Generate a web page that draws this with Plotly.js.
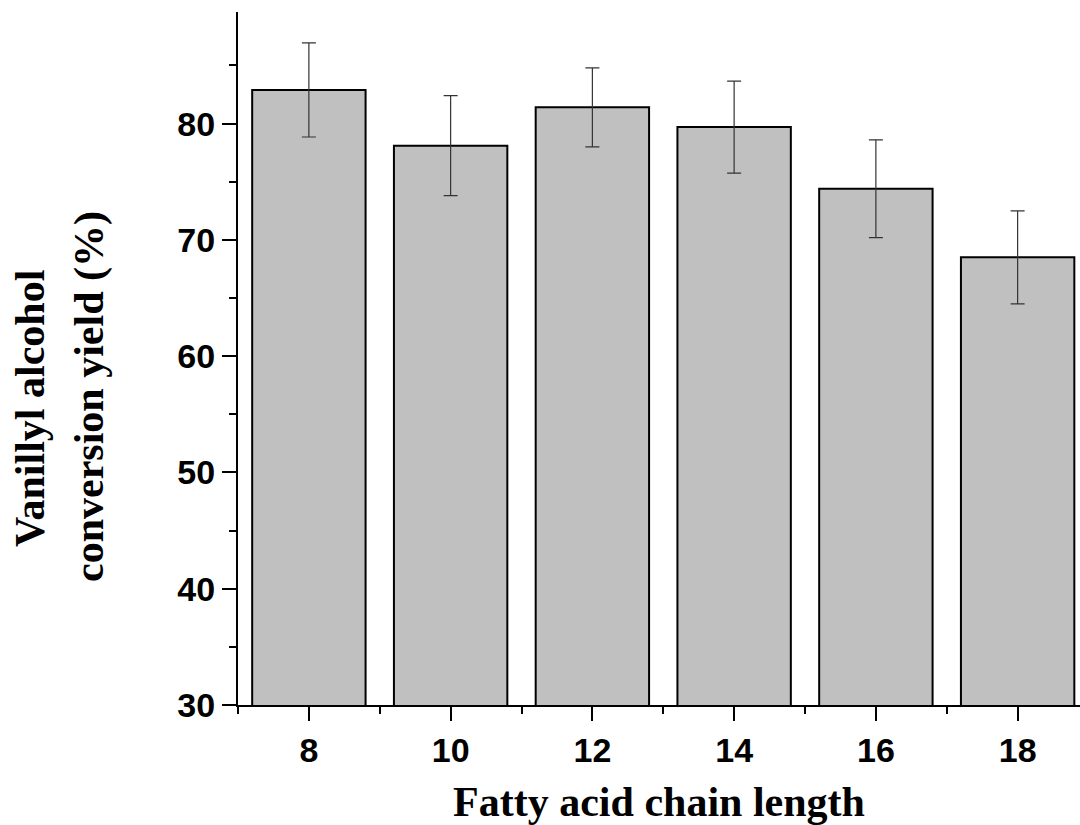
<!DOCTYPE html>
<html>
<head>
<meta charset="utf-8">
<script src="https://cdn.plot.ly/plotly-3.0.1.min.js"></script>
<style>html,body{margin:0;padding:0;background:#fff;}#chart{width:1080px;height:825px;}</style>
</head>
<body>
<div id="chart"></div>
<script>
const chainLengths = [8, 10, 12, 14, 16, 18];
const yieldValues = [82.9, 78.1, 81.4, 79.7, 74.4, 68.5];
const yieldErrors = [4.05, 4.3, 3.4, 3.95, 4.2, 4.0];
const xTickLabels = ['8', '10', '12', '14', '16', '18'];

const W = 1080, H = 825;
const L = 238, R = 0, T = 12, B = 120;
const pw = W - L - R, ph = H - T - B;
function px2x(px){ return (px - L) / pw; }
function py2y(py){ return (H - B - py) / ph; }

const tickFont = {family: 'Liberation Sans, Arial, sans-serif', size: 34, color: '#000', weight: 'bold'};
const titleFont = {family: 'Liberation Serif, Times New Roman, serif', size: 42, color: '#000', weight: 'bold'};

const trace = {
  type: 'bar',
  x: chainLengths,
  y: yieldValues,
  width: 1.6,
  marker: {color: '#c0c0c0', line: {color: '#000', width: 2}},
  error_y: {type: 'data', array: yieldErrors, visible: true, color: '#333', thickness: 1.2, width: 7},
  hoverinfo: 'x+y'
};

const layout = {
  width: W, height: H,
  margin: {l: L, r: R, t: T, b: B, pad: 0},
  paper_bgcolor: '#fff', plot_bgcolor: '#fff',
  showlegend: false,
  bargap: 0,
  xaxis: {
    range: [7, 18.88],
    tickvals: chainLengths,
    ticktext: xTickLabels,
    ticks: 'outside', ticklen: 14, tickwidth: 2, tickcolor: '#000',
    minor: {dtick: 1, tick0: 7, ticks: 'outside', ticklen: 7, tickwidth: 2, tickcolor: '#000', showgrid: false},
    showline: true, linecolor: '#000', linewidth: 2,
    showgrid: false, zeroline: false,
    tickfont: tickFont,
    title: {text: 'Fatty acid chain length', font: titleFont, standoff: 22}
  },
  yaxis: {
    range: [30, 89.6],
    dtick: 10, tick0: 30,
    ticks: 'outside', ticklen: 14, tickwidth: 2, tickcolor: '#000',
    minor: {dtick: 5, tick0: 30, ticks: 'outside', ticklen: 7, tickwidth: 2, tickcolor: '#000', showgrid: false},
    showline: true, linecolor: '#000', linewidth: 2,
    showgrid: false, zeroline: false,
    tickfont: tickFont
  },
  annotations: [
    {text: 'Vanillyl alcohol', textangle: -90, xref: 'paper', yref: 'paper',
     x: px2x(30), y: py2y(409), xanchor: 'center', yanchor: 'middle', showarrow: false, font: titleFont},
    {text: 'conversion yield (%)', textangle: -90, xref: 'paper', yref: 'paper',
     x: px2x(89), y: py2y(397), xanchor: 'center', yanchor: 'middle', showarrow: false, font: titleFont}
  ]
};

Plotly.newPlot('chart', [trace], layout, {displayModeBar: false, staticPlot: true});
</script>
</body>
</html>
